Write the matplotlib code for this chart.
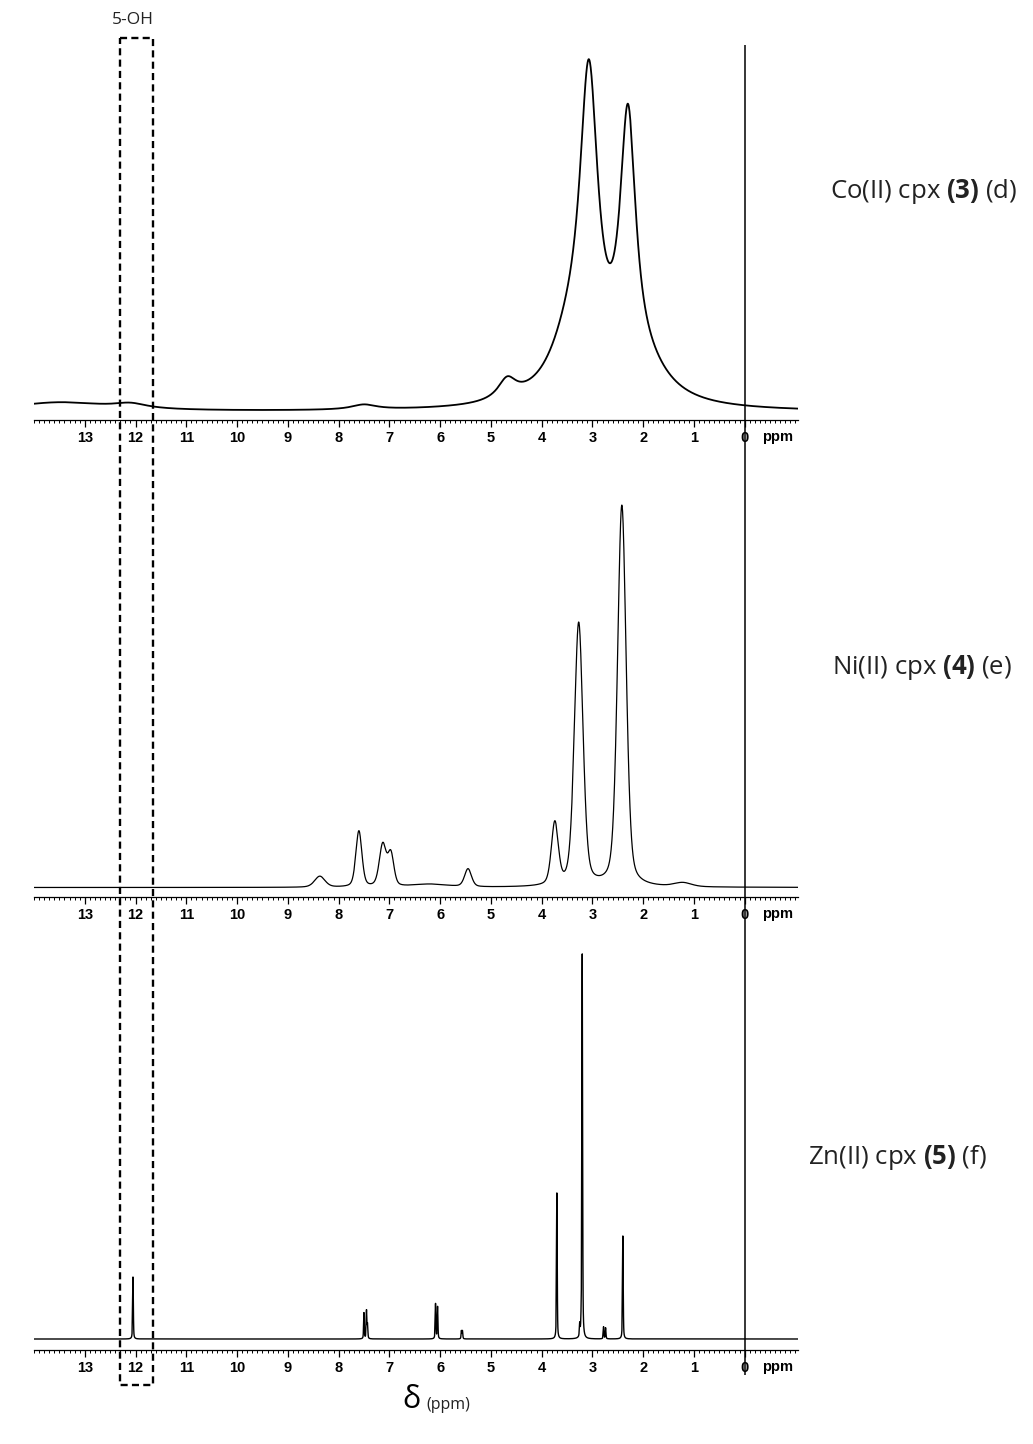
import numpy as np
import matplotlib.pyplot as plt
from matplotlib.ticker import MultipleLocator

plt.rcParams['font.family'] = ['Open Sans', 'DejaVu Sans']
plt.rcParams['mathtext.fontset'] = 'custom'
plt.rcParams['mathtext.rm'] = 'Open Sans'
plt.rcParams['mathtext.bf'] = 'Open Sans:bold'

W, H = 1033, 1444
ppm = np.arange(-1.05, 14.0, 0.001)

# peak lists: position (ppm), height, half width (ppm)
co_pos = [3.07, 2.30, 4.68, 3.45, 1.95, 7.50, 13.5, 12.1]
co_h = [300, 258, 20, 50, 26, 5, 9, 5]
co_w = [0.22, 0.19, 0.22, 0.50, 0.60, 0.30, 1.2, 0.4]

ni_pos = [2.42, 3.27, 3.74, 5.45, 7.13, 6.97, 7.60, 8.37, 1.22, 6.2]
ni_h = [381, 263, 62, 18, 42, 32, 56, 11, 4, 3]
ni_w = [0.10, 0.10, 0.08, 0.08, 0.08, 0.07, 0.07, 0.12, 0.2, 0.4]

zn_pos = [12.05, 7.50, 7.45, 7.43, 6.09, 6.05, 5.58, 5.56,
          3.70, 3.20, 3.25, 3.22, 2.78, 2.74, 2.40]
zn_h = [62, 26, 28, 14, 35, 32, 8, 8,
        146, 384, 12, 12, 12, 11, 103]
zn_w = [0.008] * len(zn_pos)

labels = [r"Co(II) cpx $\mathbf{(3)}$ (d)",
          r"Ni(II) cpx $\mathbf{(4)}$ (e)",
          r"Zn(II) cpx $\mathbf{(5)}$ (f)"]


def spectrum(pos, h, w, eta):
    y = np.zeros_like(ppm)
    for p, a, hw in zip(pos, h, w):
        lor = hw ** 2 / ((ppm - p) ** 2 + hw ** 2)
        gau = np.exp(-np.log(2) * ((ppm - p) / hw) ** 2)
        y += a * (eta * lor + (1 - eta) * gau)
    return y


specs = [spectrum(co_pos, co_h, co_w, 1.0),
         spectrum(ni_pos, ni_h, ni_w, 0.35),
         spectrum(zn_pos, zn_h, zn_w, 0.5)]
offsets = [8, 9.5, 11]
line_w = [1.3, 0.9, 1.0]

# axis line y, top y, label position (pixels)
panels = [(420, 45), (897, 470), (1350, 945)]
label_xy = [(830, 192), (832, 668), (808, 1157)]

fig = plt.figure(figsize=(W / 100, H / 100), dpi=100)

x0, x1 = 34, 798
for i, (ay, ty) in enumerate(panels):
    ax = fig.add_axes([x0 / W, 1 - ay / H, (x1 - x0) / W, (ay - ty) / H])
    ax.set_facecolor('none')
    ax.plot(ppm, specs[i] + offsets[i], color='black', lw=line_w[i])
    ax.set_xlim(14.0, -1.05)
    ax.set_ylim(0, ay - ty)
    for s in ['top', 'left', 'right']:
        ax.spines[s].set_visible(False)
    ax.spines['bottom'].set_linewidth(0.9)
    ax.set_yticks([])
    ax.set_xticks(np.arange(0, 14))
    ax.set_xticklabels([str(v) for v in range(14)], fontweight='bold',
                       family='Liberation Sans', fontsize=10.5)
    ax.xaxis.set_minor_locator(MultipleLocator(0.1))
    ax.tick_params(axis='x', which='major', direction='out', length=5,
                   width=0.9, pad=3)
    ax.tick_params(axis='x', which='minor', direction='out', length=2.5,
                   width=0.7)
    ax.annotate('ppm', xy=(-0.35, 0), xycoords=ax.get_xaxis_transform(),
                xytext=(0, -17), textcoords='offset pixels', ha='left',
                va='center', fontweight='bold', family='Liberation Sans',
                fontsize=10.5)
    lx, ly = label_xy[i]
    fig.text(lx / W, 1 - ly / H, labels[i], fontsize=18.5, ha='left',
             va='center', color='#222222')

# overlay: reference line at 0 ppm and the 5-OH box
ov = fig.add_axes([x0 / W, 0, (x1 - x0) / W, 1])
ov.set_facecolor('none')
ov.set_xlim(14.0, -1.05)
ov.set_ylim(H, 0)
ov.axis('off')
ov.vlines(0, 45, 1375, color='black', lw=1.1)
box_ppm = [12.3, 11.65]
box_y = [38, 1385]
ov.plot([box_ppm[0], box_ppm[1], box_ppm[1], box_ppm[0], box_ppm[0]],
        [box_y[0], box_y[0], box_y[1], box_y[1], box_y[0]],
        color='black', lw=1.7, linestyle=(0, (3, 1.8)))

fig.text(133 / W, 1 - 20 / H, '5-OH', fontsize=12.5, ha='center',
         va='center', color='#222222')
fig.text(411 / W, 1 - 1400 / H, 'δ', fontsize=22, ha='center',
         va='center')
fig.text(426 / W, 1 - 1405 / H, '(ppm)', fontsize=11.5, ha='left',
         va='center', color='#222222')

fig.savefig('out.png', dpi=100)
